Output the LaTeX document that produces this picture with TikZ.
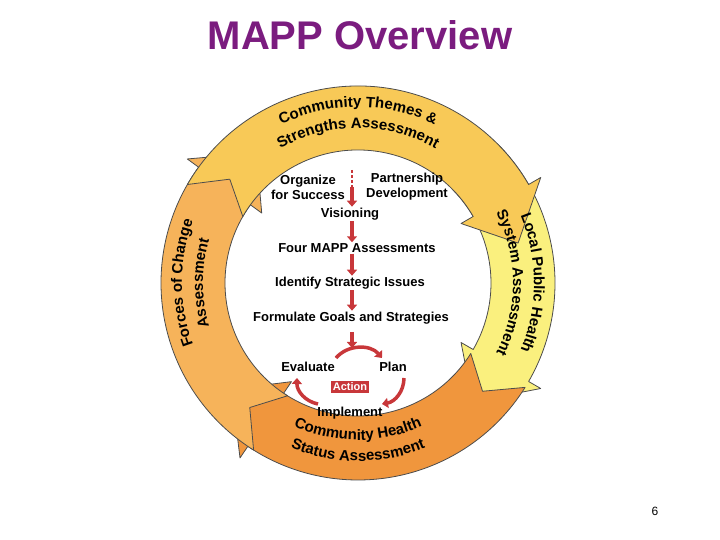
\documentclass[tikz,border=0pt]{standalone}
\usepackage{fontspec}
\setmainfont{Liberation Sans}
\usetikzlibrary{decorations.text,arrows.meta}
\definecolor{cTop}{HTML}{F8C957}
\definecolor{cRight}{HTML}{FAF07E}
\definecolor{cBot}{HTML}{F0963D}
\definecolor{cLeft}{HTML}{F6B35A}
\definecolor{cRed}{HTML}{C8373A}
\definecolor{cTitle}{HTML}{7B1C7F}
\tikzset{
  band/.style={draw=black!70, line width=0.8pt, line join=round},
  step label/.style={font=\fontsize{13}{15}\selectfont\bfseries, inner sep=1pt, align=center},
  redarrow/.style={draw=cRed, line width=3.5pt, -{Triangle[length=6pt,width=10pt]}},
  arctext/.style={decorate, decoration={text along path, text align=center,
     text={|\fontsize{15}{15}\selectfont\bfseries|#1}}}
}
\newcommand{\arcarrow}[3]{% tail angle, head tip angle, color
  \pgfmathsetmacro{\hb}{#2+16}
  \pgfmathsetmacro{\nt}{#1-9}
  \filldraw[band, fill=#3, shift={(358,257)}]
    (#1:197) arc[start angle=#1, end angle=\hb, radius=197]
    -- (\hb:211) -- (#2:165) -- (\hb:119) -- (\hb:133)
    arc[start angle=\hb, end angle=#1, radius=133]
    -- (\nt:165) -- cycle;
}
\begin{document}
\begin{tikzpicture}[x=1pt,y=1pt]
\useasboundingbox (0,0) rectangle (720,540);
\node[font=\fontsize{40}{44}\selectfont\bfseries, text=cTitle] (title) at (360,505) {MAPP Overview};
\node[font=\fontsize{12}{14}\selectfont] (page) at (655,29) {6};
% arrows
\arcarrow{45}{-46}{cRight}
\arcarrow{-32}{-140}{cBot}
\arcarrow{-122}{-232}{cLeft}
\arcarrow{150}{14}{cTop}
% arc texts
\begin{scope}[shift={(358,257)}]
\path[arctext={Community Themes {\&}}] (150:176) arc[start angle=150, end angle=30, radius=176];
\path[arctext={Strengths Assessment}] (150:155) arc[start angle=150, end angle=30, radius=155];
\path[arctext={Local Public Health}] (60:176) arc[start angle=60, end angle=-60, radius=176];
\path[arctext={System Assessment}] (60:155) arc[start angle=60, end angle=-60, radius=155];
\path[arctext={Forces of Change}] (240:176) arc[start angle=240, end angle=120, radius=176];
\path[arctext={Assessment}] (240:155) arc[start angle=240, end angle=120, radius=155];
\path[arctext={Community Health}] (-150:157) arc[start angle=-150, end angle=-30, radius=157];
\path[arctext={Status Assessment}] (-150:178) arc[start angle=-150, end angle=-30, radius=178];
\end{scope}
% center steps
\node[step label] (org) at (308,353) {Organize\\for Success};
\node[step label] (part) at (407,353) {Partnership\\Development};
\node[step label] (vis) at (350,326) {Visioning};
\node[step label] (four) at (357,292) {Four MAPP Assessments};
\node[step label] (iden) at (350,257) {Identify Strategic Issues};
\node[step label] (form) at (351,222) {Formulate Goals and Strategies};
\node[step label] (eval) at (308,173) {Evaluate};
\node[step label] (plan) at (393,173) {Plan};
\node[step label] (impl) at (350,127) {Implement};
\node[fill=cRed, text=white, font=\fontsize{11}{13}\selectfont\bfseries, inner sep=2pt] (act) at (350,153) {Action};
\coordinate (d1) at (352,370);
\coordinate (d2) at (352,353);
\draw[cRed, line width=2pt, dash pattern=on 3pt off 2pt] (d1) -- (d2);
\draw[redarrow] (d2) -- (vis.north -| d2);
\draw[redarrow] (vis.south -| d2) -- (four.north -| d2);
\draw[redarrow] (four.south -| d2) -- (iden.north -| d2);
\draw[redarrow] (iden.south -| d2) -- (form.north -| d2);
\coordinate (f1) at (352,208);
\coordinate (f2) at (352,192);
\draw[redarrow] (f1) -- (f2);
\coordinate (c1) at (336,182);
\coordinate (c2) at (382,182);
\draw[redarrow] (c1) to[bend left=50] (c2);
\coordinate (p1) at (404,162);
\coordinate (p2) at (382,136);
\draw[redarrow] (p1) to[bend left=40] (p2);
\coordinate (e1) at (318,136);
\coordinate (e2) at (297,162);
\draw[redarrow] (e1) to[bend left=40] (e2);
\end{tikzpicture}
\end{document}
